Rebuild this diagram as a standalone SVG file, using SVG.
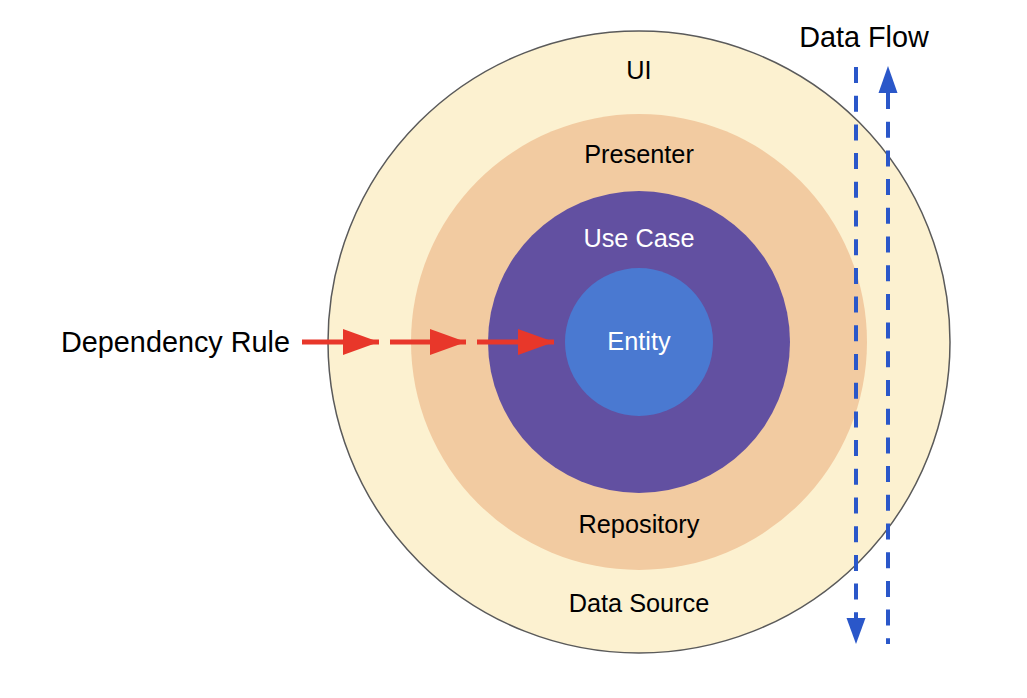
<svg xmlns="http://www.w3.org/2000/svg" width="1027" height="698" viewBox="0 0 1027 698">
<style>
text{font-family:"Liberation Sans",Arial,sans-serif;font-size:25.3px;text-anchor:middle;fill:#000}
.w{fill:#fff}
.big{font-size:28.8px}
.red{stroke:#e8372a;stroke-width:5;fill:none}
.blue{stroke:#2a57c9;stroke-width:4;fill:none;stroke-dasharray:16 12.7}
</style>
<defs>
<marker id="rh" markerUnits="userSpaceOnUse" markerWidth="36" markerHeight="26" refX="36" refY="13" orient="auto">
<path d="M0,0 L36,13 L0,26 Z" fill="#e8372a"/>
</marker>
</defs>
<rect width="1027" height="698" fill="#fff"/>
<g id="ui">
<circle cx="639" cy="342" r="311" fill="#fcf1d0" stroke="#5a5a5a" stroke-width="1.5"/>
<text x="639" y="79">UI</text>
<text x="639" y="612">Data Source</text>
</g>
<g id="presenter">
<circle cx="639" cy="342" r="228" fill="#f2cba1"/>
<text x="639" y="163">Presenter</text>
<text x="639" y="533">Repository</text>
</g>
<g id="usecase">
<circle cx="639" cy="342" r="151" fill="#6250a1"/>
<text class="w" x="639" y="247">Use Case</text>
</g>
<g id="entity">
<circle cx="639" cy="342" r="74" fill="#4a79d1"/>
<text class="w" x="639" y="350">Entity</text>
</g>
<g id="labels">
<text class="big" x="175.5" y="352">Dependency Rule</text>
<text class="big" x="864" y="47">Data Flow</text>
</g>
<g id="connectors">
<line class="red" x1="302" y1="342" x2="379" y2="342" marker-end="url(#rh)"/>
<line class="red" x1="390" y1="342" x2="466" y2="342" marker-end="url(#rh)"/>
<line class="red" x1="477" y1="342" x2="554" y2="342" marker-end="url(#rh)"/>
<path class="blue" d="M856,67 V618"/>
<path d="M846.5,618 L865.5,618 L856,644 Z" fill="#2a57c9"/>
<path class="blue" d="M888,93 V644"/>
<path d="M878.5,93 L897.5,93 L888,66 Z" fill="#2a57c9"/>
</g>
</svg>
